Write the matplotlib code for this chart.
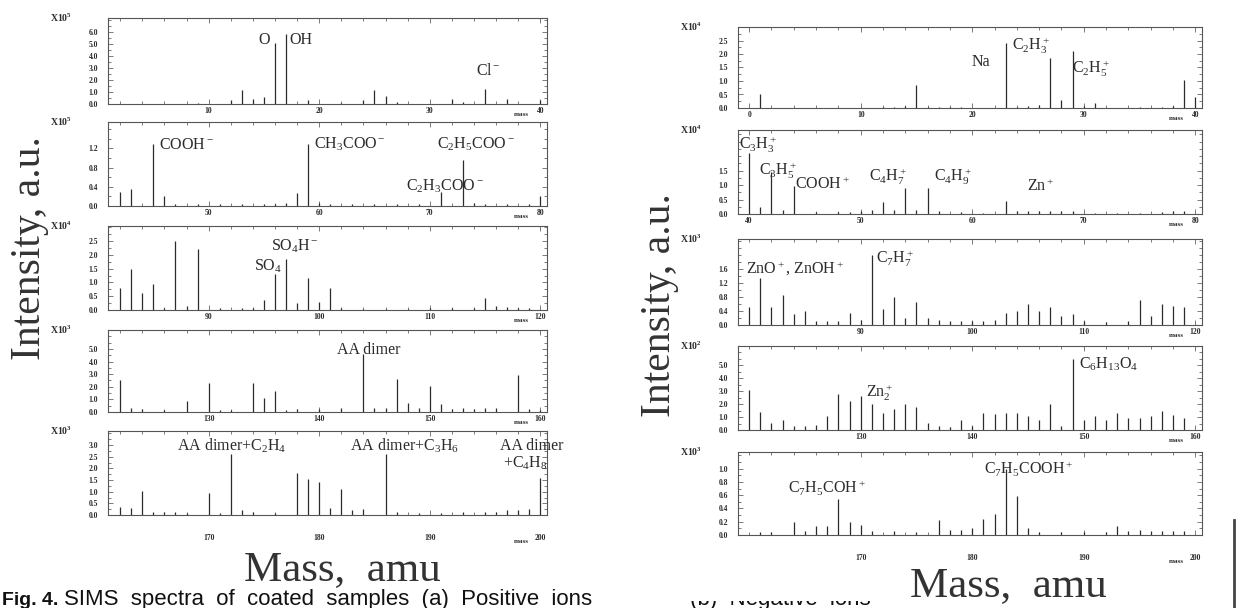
import matplotlib.pyplot as plt
from matplotlib.ticker import MultipleLocator
from matplotlib.patches import Rectangle
from matplotlib.lines import Line2D

plt.rcParams['font.family'] = ['Liberation Serif', 'DejaVu Serif']
plt.rcParams['mathtext.fontset'] = 'custom'
plt.rcParams['mathtext.rm'] = 'Liberation Serif'
plt.rcParams['mathtext.it'] = 'Liberation Serif:italic'
plt.rcParams['mathtext.bf'] = 'Liberation Serif:bold'
plt.rcParams['mathtext.default'] = 'regular'

W, H = 1238, 608
INK = '#2b2b2b'

# ---- left column (spectra a) ----
lp1_mass = [3, 5, 7, 9, 12, 13, 14, 15, 16, 17, 19, 22, 24, 25, 26, 27, 32, 33, 35, 37, 40, 41]
lp1_int = [0.04, 0.04, 0.04, 0.05, 0.3, 1.15, 0.45, 0.6, 5.1, 5.9, 0.35, 0.06, 0.3, 1.2, 0.7, 0.15,
           0.4, 0.15, 1.25, 0.4, 0.35, 0.2]

lp2_mass = [42, 43, 45, 46, 47, 49, 51, 53, 55, 56, 57, 58, 59, 60, 61, 63, 65, 67, 69, 71, 73, 74,
            75, 77, 79, 80, 81]
lp2_int = [0.3, 0.35, 1.3, 0.2, 0.04, 0.04, 0.04, 0.04, 0.04, 0.04, 0.06, 0.28, 1.3, 0.06, 0.04,
           0.04, 0.04, 0.04, 0.04, 0.3, 0.95, 0.06, 0.04, 0.04, 0.04, 0.2, 0.25]

lp3_mass = [82, 83, 84, 85, 86, 87, 88, 89, 91, 93, 94, 95, 96, 97, 98, 99, 100, 101, 102, 104,
            106, 108, 110, 112, 114, 115, 116, 117, 118, 119]
lp3_int = [0.8, 1.5, 0.6, 0.95, 0.08, 2.5, 0.15, 2.2, 0.08, 0.08, 0.08, 0.35, 1.3, 1.85, 0.25,
           1.15, 0.3, 0.8, 0.06, 0.05, 0.05, 0.05, 0.06, 0.06, 0.08, 0.45, 0.15, 0.12, 0.08, 0.06]

lp4_mass = [122, 123, 124, 126, 128, 130, 131, 132, 134, 135, 136, 137, 138, 140, 142, 144, 145,
            146, 147, 148, 149, 150, 151, 152, 153, 154, 155, 156, 158, 159, 160]
lp4_int = [2.5, 0.3, 0.2, 0.15, 0.9, 2.3, 0.15, 0.12, 2.3, 1.1, 1.7, 0.15, 0.2, 0.2, 0.35, 4.6,
           0.3, 0.3, 2.6, 0.75, 0.3, 2.1, 0.6, 0.25, 0.3, 0.2, 0.3, 0.3, 2.9, 0.25, 0.15]

lp5_mass = [162, 163, 164, 165, 166, 167, 168, 170, 171, 172, 173, 174, 176, 178, 179, 180, 181,
            182, 183, 184, 186, 187, 189, 191, 193, 195, 196, 197, 198, 199, 200]
lp5_int = [0.35, 0.3, 1.05, 0.15, 0.15, 0.12, 0.1, 0.95, 0.1, 2.6, 0.2, 0.15, 0.1, 1.8, 1.55,
           1.4, 0.3, 1.1, 0.2, 0.25, 2.6, 0.15, 0.1, 0.1, 0.15, 0.12, 0.15, 0.2, 0.2, 0.25, 1.6]

# ---- right column (spectra b) ----
rp1_mass = [1, 12, 13, 14, 15, 16, 17, 18, 19, 23, 24, 25, 26, 27, 28, 29, 30, 31, 35, 37, 38,
            39, 40]
rp1_int = [0.5, 0.04, 0.05, 0.06, 0.85, 0.05, 0.04, 0.04, 0.04, 2.4, 0.05, 0.06, 0.1, 1.85, 0.3,
           2.1, 0.08, 0.2, 0.04, 0.04, 0.06, 1.05, 0.4]

rp2_mass = [40, 41, 42, 43, 44, 46, 48, 49, 50, 51, 52, 53, 54, 55, 56, 57, 59, 61, 63, 64, 65,
            66, 67, 68, 69, 71, 73, 75, 77, 78, 79]
rp2_int = [2.1, 0.25, 1.45, 0.15, 0.95, 0.06, 0.06, 0.08, 0.1, 0.15, 0.4, 0.15, 0.9, 0.15, 0.9,
           0.1, 0.06, 0.05, 0.45, 0.12, 0.12, 0.12, 0.12, 0.12, 0.1, 0.05, 0.05, 0.05, 0.08, 0.1, 0.1]

rp3_mass = [80, 81, 82, 83, 84, 85, 86, 87, 88, 89, 90, 91, 92, 93, 94, 95, 96, 97, 98, 99, 100,
            101, 102, 103, 104, 105, 106, 107, 108, 109, 110, 112, 114, 115, 116, 117, 118, 119]
rp3_int = [0.5, 1.35, 0.5, 0.85, 0.3, 0.4, 0.1, 0.1, 0.12, 0.35, 0.15, 2.0, 0.45, 0.8, 0.2, 0.65,
           0.2, 0.15, 0.1, 0.12, 0.1, 0.1, 0.15, 0.35, 0.4, 0.6, 0.4, 0.5, 0.25, 0.3, 0.1, 0.08,
           0.1, 0.7, 0.25, 0.6, 0.55, 0.5]

rp4_mass = [120, 121, 122, 123, 124, 125, 126, 127, 128, 129, 130, 131, 132, 133, 134, 135, 136,
            137, 138, 139, 140, 141, 142, 143, 144, 145, 146, 147, 148, 149, 150, 151, 152, 153,
            154, 155, 156, 157, 158, 159]
rp4_int = [3.1, 1.4, 0.55, 0.8, 0.3, 0.3, 0.4, 1.1, 2.75, 2.25, 2.6, 2.0, 1.35, 1.65, 2.0, 1.75,
           0.55, 0.3, 0.25, 0.75, 0.3, 1.35, 1.2, 1.35, 1.35, 1.1, 0.75, 2.0, 0.3, 5.5, 0.75, 1.1,
           0.75, 1.35, 0.95, 0.9, 1.1, 1.5, 1.15, 0.9]

rp5_mass = [161, 162, 164, 165, 166, 167, 168, 169, 170, 171, 173, 175, 177, 178, 179, 180, 181,
            182, 183, 184, 185, 186, 188, 190, 192, 193, 194, 195, 196, 197, 198, 199]
rp5_int = [0.05, 0.05, 0.19, 0.06, 0.13, 0.14, 0.54, 0.2, 0.15, 0.06, 0.06, 0.05, 0.23, 0.08,
           0.07, 0.1, 0.24, 0.31, 1.0, 0.59, 0.1, 0.05, 0.04, 0.05, 0.05, 0.13, 0.06, 0.07, 0.06,
           0.06, 0.06, 0.06]

left_mult = ['X10$^5$', 'X10$^5$', 'X10$^4$', 'X10$^3$', 'X10$^3$']
right_mult = ['X10$^4$', 'X10$^4$', 'X10$^3$', 'X10$^2$', 'X10$^3$']

left_notes = [
    [('O', 15.5, 5.4, 'right'), ('OH', 17.3, 5.4, 'left'), ('Cl$^-$', 35.3, 2.8, 'center')],
    [('COOH$^-$', 45.5, 1.28, 'left'), ('CH$_3$COO$^-$', 59.5, 1.28, 'left'),
     ('C$_2$H$_5$COO$^-$', 74.2, 1.28, 'center'), ('C$_2$H$_3$COO$^-$', 71.4, 0.42, 'center')],
    [('SO$_4$H$^-$', 97.8, 2.3, 'center'), ('SO$_4$', 95.4, 1.6, 'center')],
    [('AA dimer', 144.5, 4.9, 'center')],
    [('AA dimer+C$_2$H$_4$', 172.1, 2.95, 'center'), ('AA dimer+C$_3$H$_6$', 187.7, 2.95, 'center'),
     ('AA dimer', 199.2, 2.95, 'center'), ('+C$_4$H$_8$', 198.6, 2.2, 'center')],
]
right_notes = [
    [('Na', 20.8, 1.7, 'center'), ('C$_2$H$_3^+$', 25.3, 2.3, 'center'),
     ('C$_2$H$_5^+$', 30.6, 1.45, 'center')],
    [('C$_3$H$_3^+$', 40.8, 2.4, 'center'), ('C$_3$H$_5^+$', 42.6, 1.5, 'center'),
     ('COOH$^+$', 46.6, 1.0, 'center'), ('C$_4$H$_7^+$', 52.4, 1.3, 'center'),
     ('C$_4$H$_9^+$', 58.3, 1.3, 'center'), ('Zn$^+$', 66.1, 0.95, 'center')],
    [('ZnO$^+$, ZnOH$^+$', 84.1, 1.6, 'center'), ('C$_7$H$_7^+$', 93.1, 1.9, 'center')],
    [('Zn$_2^+$', 131.7, 2.9, 'center'), ('C$_6$H$_{13}$O$_4$', 152.2, 5.1, 'center')],
    [('C$_7$H$_5$COH$^+$', 167.0, 0.72, 'center'), ('C$_7$H$_5$COOH$^+$', 185.1, 1.0, 'center')],
]

fig = plt.figure(figsize=(W / 100, H / 100), dpi=100)


def px_axes(x0, y0, x1, y1):
    return fig.add_axes([x0 / W, 1 - y1 / H, (x1 - x0) / W, (y1 - y0) / H])


def draw_panel(box, xlim, masses, ints, ymax, yticks, xticks, mult, notes, bottom):
    ax = px_axes(*box)
    ax.vlines(masses, 0, ints, color=INK, lw=0.9)
    ax.set_xlim(*xlim)
    ax.set_ylim(0, ymax)
    ax.set_xticks(xticks)
    ax.set_xticklabels([str(t) for t in xticks])
    ax.xaxis.set_minor_locator(MultipleLocator(2))
    ax.set_yticks(yticks)
    ax.set_yticklabels([f'{v:.1f}' for v in yticks])
    ax.yaxis.set_minor_locator(MultipleLocator((yticks[1] - yticks[0]) / 2))
    pad = 14 if bottom else 2
    ax.tick_params(which='both', direction='in', top=True, right=True, colors='#666',
                   labelcolor=INK, width=0.6)
    ax.tick_params(which='major', length=3.5, labelsize=5.5)
    ax.tick_params(axis='x', which='major', pad=pad)
    ax.tick_params(axis='y', which='major', pad=7)
    ax.tick_params(which='minor', length=2)
    for lab in ax.get_xticklabels() + ax.get_yticklabels():
        lab.set_fontweight('bold')
    for s in ax.spines.values():
        s.set_color('#555')
        s.set_linewidth(0.8)
    ax.annotate('mass', xy=(xticks[-1], 0), xycoords=('data', 'axes fraction'),
                xytext=(-8, -pad - 3.5), textcoords='offset points', ha='right', va='top',
                fontsize=5, fontweight='bold', color=INK)
    ax.annotate(mult, xy=(0, 1), xycoords='axes fraction', xytext=(-34, 0),
                textcoords='offset points', ha='center', va='center', fontsize=7,
                fontweight='bold', color=INK)
    for txt, x, y, ha in notes:
        ax.text(x, y, txt, ha=ha, va='center', fontsize=11.5, color=INK)
    return ax


left_boxes = [(108, 18, 547, 104), (108, 122, 547, 206), (108, 226, 547, 310),
              (108, 330, 547, 412), (108, 431, 547, 515)]
right_boxes = [(738, 27, 1202, 108), (738, 130, 1202, 214), (738, 239, 1202, 325),
               (738, 346, 1202, 430), (738, 452, 1202, 535)]

left_data = [(lp1_mass, lp1_int, 7.2, [0, 1, 2, 3, 4, 5, 6], [10, 20, 30, 40]),
             (lp2_mass, lp2_int, 1.75, [0, 0.4, 0.8, 1.2], [50, 60, 70, 80]),
             (lp3_mass, lp3_int, 3.05, [0, 0.5, 1.0, 1.5, 2.0, 2.5], [90, 100, 110, 120]),
             (lp4_mass, lp4_int, 6.5, [0, 1, 2, 3, 4, 5], [130, 140, 150, 160]),
             (lp5_mass, lp5_int, 3.6, [0, 0.5, 1.0, 1.5, 2.0, 2.5, 3.0], [170, 180, 190, 200])]
right_data = [(rp1_mass, rp1_int, 3.0, [0, 0.5, 1.0, 1.5, 2.0, 2.5], [0, 10, 20, 30, 40]),
              (rp2_mass, rp2_int, 2.9, [0, 0.5, 1.0, 1.5], [40, 50, 60, 70, 80]),
              (rp3_mass, rp3_int, 2.45, [0, 0.4, 0.8, 1.2, 1.6], [90, 100, 110, 120]),
              (rp4_mass, rp4_int, 6.5, [0, 1, 2, 3, 4, 5], [130, 140, 150, 160]),
              (rp5_mass, rp5_int, 1.25, [0, 0.2, 0.4, 0.6, 0.8, 1.0], [170, 180, 190, 200])]

for i in range(5):
    m, v, ymax, yt, xt = left_data[i]
    draw_panel(left_boxes[i], (40 * i + 0.9, 40 * i + 40.6), m, v, ymax, yt, xt,
               left_mult[i], left_notes[i], i == 4)
    m, v, ymax, yt, xt = right_data[i]
    draw_panel(right_boxes[i], (40 * i - 1.0, 40 * i + 40.6), m, v, ymax, yt, xt,
               right_mult[i], right_notes[i], i == 4)

# axis titles
fig.text(30 / W, 1 - 248 / H, 'Intensity, a.u.', rotation=90, fontsize=30, ha='center',
         va='center', color='#333')
fig.text(660 / W, 1 - 305 / H, 'Intensity, a.u.', rotation=90, fontsize=30, ha='center',
         va='center', color='#333')

# caption
cap1 = fig.text(2 / W, 3 / H, 'Fig. 4.', fontsize=14, fontweight='bold', family='Liberation Sans',
                va='baseline', color='#111')
fig.canvas.draw()
bb = cap1.get_window_extent()
fig.text((bb.x1 + 6) / W, 3 / H, 'SIMS  spectra  of  coated  samples  (a)  Positive  ions',
         fontsize=16, family='Liberation Sans', va='baseline', color='#111')
fig.text(690 / W, 3 / H, '(b)  Negative  ions', fontsize=16, family='Liberation Sans',
         va='baseline', color='#111')
fig.add_artist(Rectangle((640 / W, 7 / H), 600 / W, 21 / H, transform=fig.transFigure,
                         facecolor='white', edgecolor='none', zorder=5))

fig.text(342 / W, 1 - 580 / H, 'Mass,  amu', fontsize=31, ha='center', va='baseline',
         color='#333', zorder=6)
fig.text(1008 / W, 1 - 596 / H, 'Mass,  amu', fontsize=31, ha='center', va='baseline',
         color='#333', zorder=6)
fig.add_artist(Line2D([1234 / W, 1234 / W], [0, 1 - 520 / H], transform=fig.transFigure,
                      color='#444', lw=2, zorder=7))

fig.savefig('out.png', dpi=100)
